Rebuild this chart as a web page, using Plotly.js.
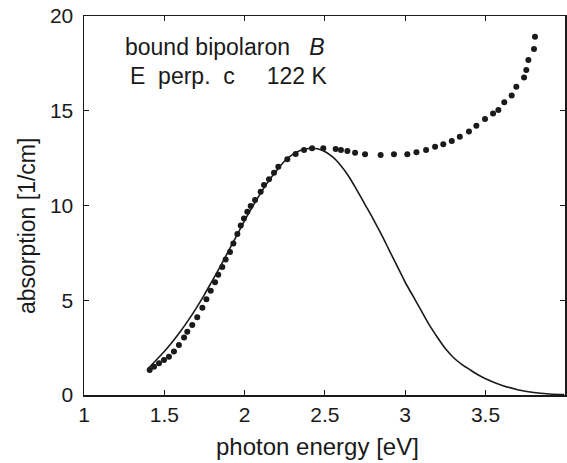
<!DOCTYPE html>
<html>
<head>
<meta charset="utf-8">
<script src="https://cdn.plot.ly/plotly-3.0.1.min.js"></script>
<style>html,body{margin:0;padding:0;background:#fff;}#chart{width:567px;height:463px;}</style>
</head>
<body>
<div id="chart"></div>
<script>
// measured data points (dots)
const dotEnergy = [1.409,1.436,1.467,1.498,1.529,1.560,1.591,1.623,1.643,1.674,1.705,1.737,1.762,1.789,1.816,1.836,1.861,1.882,1.909,1.930,1.955,1.976,1.996,2.017,2.038,2.065,2.100,2.121,2.152,2.183,2.210,2.266,2.318,2.370,2.420,2.490,2.567,2.600,2.640,2.688,2.750,2.847,2.930,3.013,3.070,3.130,3.186,3.237,3.290,3.340,3.397,3.443,3.497,3.547,3.580,3.617,3.663,3.692,3.740,3.754,3.767,3.802,3.808];
const dotAbsorption = [1.32,1.49,1.67,1.85,2.02,2.29,2.64,3.04,3.34,3.69,4.10,4.60,5.05,5.50,5.95,6.35,6.75,7.15,7.55,8.00,8.50,8.95,9.32,9.67,9.97,10.29,10.73,11.08,11.38,11.73,12.05,12.44,12.72,12.93,13.02,13.02,12.98,12.93,12.87,12.79,12.70,12.66,12.70,12.70,12.81,12.93,13.10,13.23,13.40,13.63,13.90,14.21,14.56,14.86,15.04,15.45,15.80,16.27,16.75,17.15,17.68,18.26,18.91];

// model curve (solid line)
const fitEnergy = [1.40,1.45,1.50,1.55,1.60,1.65,1.70,1.75,1.80,1.85,1.90,1.95,2.00,2.05,2.10,2.15,2.20,2.25,2.30,2.35,2.42,2.48,2.55,2.60,2.65,2.70,2.75,2.80,2.85,2.90,2.95,3.00,3.05,3.10,3.15,3.20,3.25,3.30,3.35,3.40,3.45,3.50,3.60,3.70,3.80,3.90,3.99];
const fitAbsorption = [1.40,1.85,2.30,2.80,3.35,3.95,4.60,5.30,6.05,6.80,7.60,8.40,9.20,9.95,10.65,11.30,11.85,12.35,12.70,12.92,13.02,12.93,12.55,12.10,11.52,10.80,10.05,9.30,8.50,7.65,6.80,5.95,5.20,4.45,3.70,3.05,2.45,1.98,1.63,1.35,1.08,0.86,0.52,0.28,0.13,0.05,0.02];

const xTicks = [1, 1.5, 2, 2.5, 3, 3.5];
const xTickText = ['1', '1.5', '2', '2.5', '3', '3.5'];
const yTicks = [0, 5, 10, 15, 20];
const yTickText = ['0', '5', '10', '15', '20'];

const xTitle = 'photon energy [eV]';
const yTitle = 'absorption [1/cm]';
const label1 = 'bound bipolaron\u00a0\u00a0\u00a0<i>B</i>';
const label2 = 'E\u00a0\u00a0perp.\u00a0\u00a0c\u00a0\u00a0\u00a0\u00a0\u00a0122\u00a0K';

const FONT = 'Liberation Sans, Arial, Helvetica, sans-serif';
const INK = '#1a1a1a';

// plot-area geometry in pixels (used only for placing the text labels)
const L = 84, R = 565, T = 16, B = 395;
const px = v => (v - L) / (R - L);
const py = v => (B - v) / (B - T);

const traces = [
  {x: fitEnergy, y: fitAbsorption, type: 'scatter', mode: 'lines',
   line: {color: INK, width: 1.6, shape: 'spline', smoothing: 0.8}, hoverinfo: 'skip'},
  {x: dotEnergy, y: dotAbsorption, type: 'scatter', mode: 'markers',
   marker: {color: INK, size: 6}, hoverinfo: 'skip'}
];

const axisCommon = {
  showline: true, linecolor: INK, linewidth: 1.5, mirror: 'allticks',
  ticks: 'inside', ticklen: 5, tickwidth: 1.2, tickcolor: INK,
  showgrid: false, zeroline: false,
  tickfont: {family: FONT, size: 21, color: INK}
};

const layout = {
  width: 567, height: 463,
  margin: {l: L, r: 567 - R, t: T, b: 463 - B},
  paper_bgcolor: '#fff', plot_bgcolor: '#fff',
  showlegend: false,
  font: {family: FONT, color: INK},
  xaxis: Object.assign({}, axisCommon, {
    range: [1, 3.995], tickmode: 'array', tickvals: xTicks, ticktext: xTickText
  }),
  yaxis: Object.assign({}, axisCommon, {
    range: [0, 20], tickmode: 'array', tickvals: yTicks, ticktext: yTickText,
    ticklabelstandoff: 5
  }),
  annotations: [
    {xref: 'paper', yref: 'paper', x: px(317), y: py(446), xanchor: 'center', yanchor: 'middle',
     text: xTitle, showarrow: false, font: {family: FONT, size: 24, color: INK}},
    {xref: 'paper', yref: 'paper', x: px(27), y: py(226), xanchor: 'center', yanchor: 'middle',
     text: yTitle, textangle: -90, showarrow: false, font: {family: FONT, size: 23, color: INK}},
    {xref: 'paper', yref: 'paper', x: px(123), y: py(47), xanchor: 'left', yanchor: 'middle',
     text: label1, showarrow: false, font: {family: FONT, size: 23, color: INK}},
    {xref: 'paper', yref: 'paper', x: px(128), y: py(76), xanchor: 'left', yanchor: 'middle',
     text: label2, showarrow: false, font: {family: FONT, size: 23, color: INK}}
  ]
};

Plotly.newPlot('chart', traces, layout, {staticPlot: true, displayModeBar: false});
</script>
</body>
</html>
